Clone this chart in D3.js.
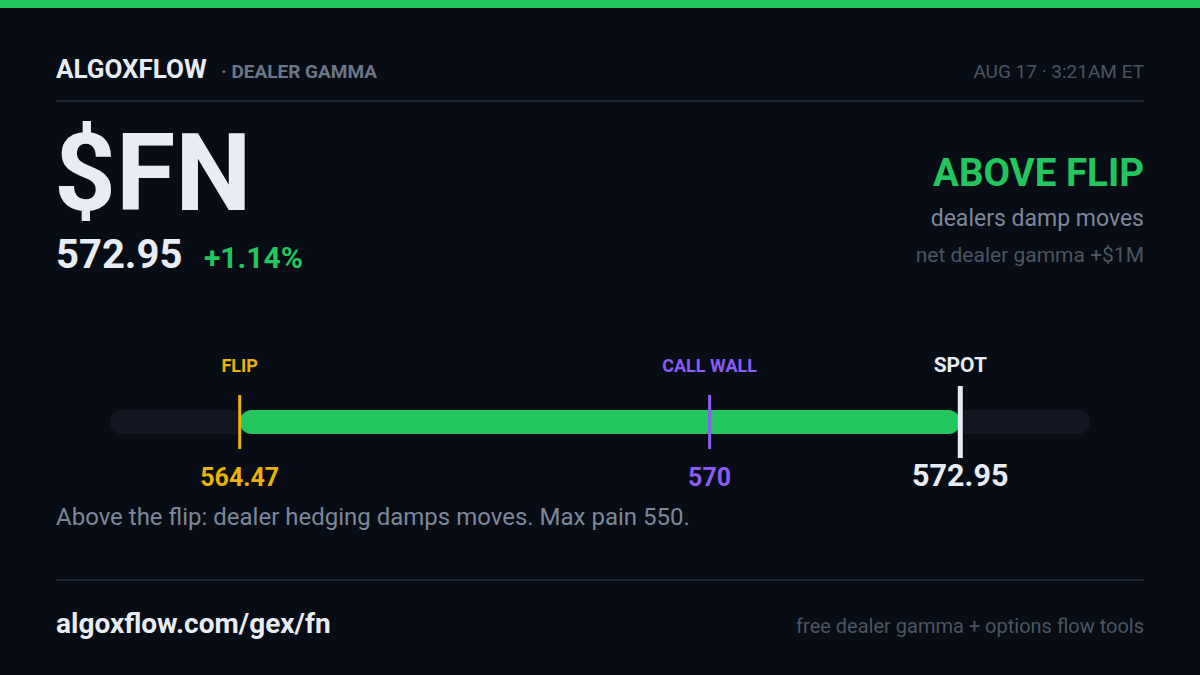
<!DOCTYPE html>
<html>
<head>
<meta charset="utf-8">
<script src="https://cdn.jsdelivr.net/npm/d3@7"></script>
<style>
  html, body { margin: 0; padding: 0; background: #080c14; }
  svg { display: block; font-family: Roboto, "Noto Sans", sans-serif; }
</style>
</head>
<body>
<svg width="1200" height="675"></svg>
<script>
// header / summary text
const brand = "ALGOXFLOW";
const section = "· DEALER GAMMA";
const stamp = "AUG 17 · 3:21AM ET";
const ticker = "$FN";
const price = "572.95";
const change = "+1.14%";
const regime = ["ABOVE FLIP", "dealers damp moves", "net dealer gamma +$1M"];
const note = "Above the flip: dealer hedging damps moves. Max pain 550.";
const footer = ["algoxflow.com/gex/fn", "free dealer gamma + options flow tools"];

// gamma levels on the price track
const levelNames = ["FLIP", "CALL WALL", "SPOT"];
const levelValues = [564.47, 570, 572.95];
const levelLabels = ["564.47", "570", "572.95"];
const levelColors = ["#eab308", "#8b5cf6", "#e8ecf4"];

document.addEventListener("DOMContentLoaded", function() {
    const svg = d3.select("svg");
    const width = +svg.attr("width");

    const left = 56, right = 1144;
    const green = "#22c55e";

    svg.append("rect").attr("width", width).attr("height", 675).attr("fill", "#080c14");
    svg.append("rect").attr("width", width).attr("height", 8).attr("fill", green);

    // header
    svg.append("text").attr("x", left).attr("y", 78)
        .attr("font-size", 26).attr("font-weight", 700).attr("fill", "#e8ecf4")
        .text(brand);
    svg.append("text").attr("x", 221).attr("y", 78)
        .attr("font-size", 19).attr("font-weight", 700).attr("fill", "#6b7689")
        .text(section);
    svg.append("text").attr("x", right).attr("y", 78).attr("text-anchor", "end")
        .attr("font-size", 19).attr("fill", "#4b5563")
        .text(stamp);

    svg.append("line").attr("x1", left).attr("x2", right).attr("y1", 101).attr("y2", 101)
        .attr("stroke", "#1e2533").attr("stroke-width", 2);

    // ticker block
    svg.append("text").attr("x", 54).attr("y", 210)
        .attr("font-size", 108).attr("font-weight", 700).attr("fill", "#e8ecf4")
        .text(ticker);
    svg.append("text").attr("x", left).attr("y", 268)
        .attr("font-size", 40).attr("font-weight", 700).attr("fill", "#e8ecf4")
        .text(price);
    svg.append("text").attr("x", 204).attr("y", 268)
        .attr("font-size", 30).attr("font-weight", 700).attr("fill", green)
        .text(change);

    // regime block
    svg.append("text").attr("x", right).attr("y", 186).attr("text-anchor", "end")
        .attr("font-size", 38.5).attr("font-weight", 700).attr("fill", green)
        .text(regime[0]);
    svg.append("text").attr("x", right).attr("y", 226).attr("text-anchor", "end")
        .attr("font-size", 23).attr("fill", "#7c879b")
        .text(regime[1]);
    svg.append("text").attr("x", right).attr("y", 262).attr("text-anchor", "end")
        .attr("font-size", 21).attr("fill", "#4b5563")
        .text(regime[2]);

    // price track
    const lo = d3.min(levelValues), hi = d3.max(levelValues);
    const pad = (hi - lo) * 0.18;
    const x = d3.scaleLinear().domain([lo - pad, hi + pad]).range([110, 1090]);
    const trackY = 410, trackH = 24;

    svg.append("rect")
        .attr("x", x.range()[0]).attr("y", trackY)
        .attr("width", x.range()[1] - x.range()[0]).attr("height", trackH)
        .attr("rx", trackH / 2).attr("fill", "#111620");

    const flip = levelValues[0], spot = levelValues[2];
    svg.append("rect")
        .attr("x", x(Math.min(flip, spot))).attr("y", trackY)
        .attr("width", Math.abs(x(spot) - x(flip))).attr("height", trackH)
        .attr("rx", trackH / 2).attr("fill", spot >= flip ? green : "#ef4444");

    const levels = levelValues.map((v, i) => ({
        name: levelNames[i], value: v, label: levelLabels[i], color: levelColors[i],
        isSpot: levelNames[i] === "SPOT"
    }));

    const g = svg.selectAll("g.level")
        .data(levels)
        .enter()
        .append("g")
        .attr("class", "level")
        .attr("transform", d => `translate(${x(d.value)},0)`);

    g.append("line")
        .attr("y1", d => d.isSpot ? 386 : 395)
        .attr("y2", d => d.isSpot ? 458 : 449)
        .attr("stroke", d => d.color)
        .attr("stroke-width", d => d.isSpot ? 5 : 3);

    g.append("text")
        .attr("y", 372).attr("text-anchor", "middle")
        .attr("font-size", d => d.isSpot ? 21 : 18).attr("font-weight", 700)
        .attr("fill", d => d.color)
        .text(d => d.name);

    g.append("text")
        .attr("y", 486).attr("text-anchor", "middle")
        .attr("font-size", d => d.isSpot ? 30.5 : 25).attr("font-weight", 700)
        .attr("fill", d => d.color)
        .text(d => d.label);

    svg.append("text").attr("x", left).attr("y", 525)
        .attr("font-size", 24).attr("fill", "#7c879b")
        .text(note);

    // footer
    svg.append("line").attr("x1", left).attr("x2", right).attr("y1", 580).attr("y2", 580)
        .attr("stroke", "#1e2533").attr("stroke-width", 2);
    svg.append("text").attr("x", left).attr("y", 633)
        .attr("font-size", 28).attr("font-weight", 700).attr("fill", "#e8ecf4")
        .text(footer[0]);
    svg.append("text").attr("x", right).attr("y", 633).attr("text-anchor", "end")
        .attr("font-size", 20).attr("fill", "#4b5563")
        .text(footer[1]);
});
</script>
</body>
</html>
